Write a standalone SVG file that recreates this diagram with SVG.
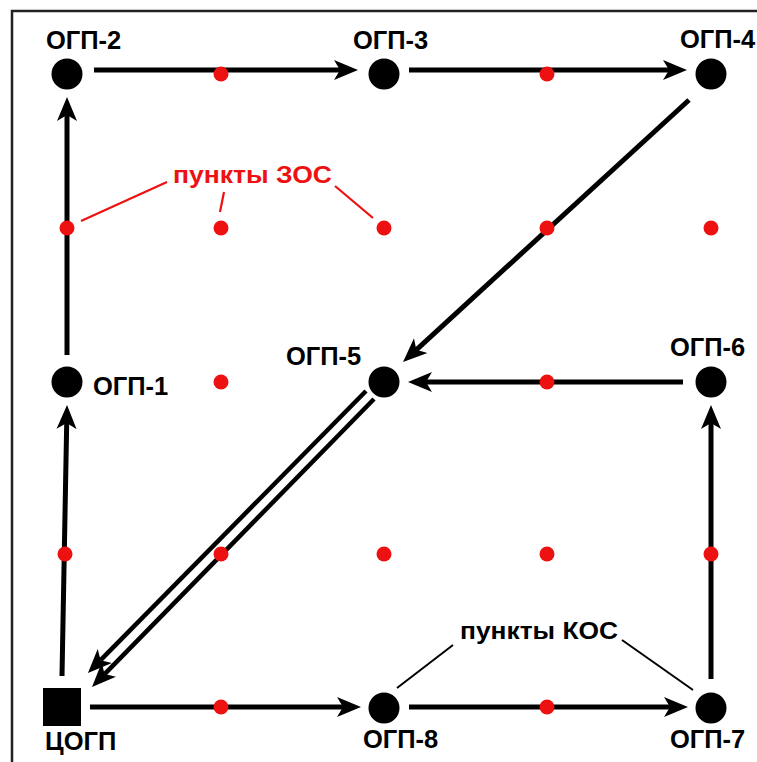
<svg xmlns="http://www.w3.org/2000/svg" width="757" height="762" viewBox="0 0 757 762">
<defs>
<style>
.lbl{font-family:"Liberation Sans",Arial,sans-serif;font-weight:bold;font-size:25.5px;fill:#000}
.red{font-family:"Liberation Sans",Arial,sans-serif;font-weight:bold;font-size:24px;fill:#ee1111}
.blk{font-family:"Liberation Sans",Arial,sans-serif;font-weight:bold;font-size:24px;fill:#000}
.edge{stroke:#000;stroke-width:5;fill:none;marker-end:url(#ah)}
.dbl{stroke:#000;stroke-width:4.5;fill:none;marker-end:url(#ah)}
.node{fill:#000}
.pt{fill:#ee1111}
.lr{stroke:#ee1111;stroke-width:2.2}
.lb{stroke:#000;stroke-width:2}
</style>
<marker id="ah" markerUnits="userSpaceOnUse" markerWidth="30" markerHeight="24" refX="6" refY="12" orient="auto" viewBox="0 0 30 24">
<path d="M0,2 L24,12 L0,22 L6,12 Z" fill="#000"/>
</marker>
</defs>
<rect x="0" y="0" width="757" height="762" fill="#fff"/>
<rect x="12" y="11" width="760" height="760" fill="none" stroke="#222" stroke-width="2.5"/>

<g id="connectors">
<line class="edge" x1="62" y1="676" x2="66.7" y2="423"/>
<line class="edge" x1="67" y1="355" x2="67" y2="115"/>
<line class="edge" x1="94" y1="70" x2="340" y2="70"/>
<line class="edge" x1="409" y1="70" x2="669" y2="70"/>
<line class="edge" x1="689" y1="100" x2="416.3" y2="349.8"/>
<line class="edge" x1="683" y1="382" x2="426" y2="382"/>
<line class="edge" x1="711" y1="679" x2="711" y2="423"/>
<line class="edge" x1="90" y1="707" x2="343" y2="707"/>
<line class="edge" x1="409" y1="707" x2="670" y2="707"/>
<line class="dbl" x1="366" y1="391" x2="100.6" y2="660.2"/>
<line class="dbl" x1="374" y1="399" x2="104.6" y2="674.1"/>
</g>

<g id="points-zos">
<circle class="pt" cx="221" cy="74" r="7.5"/>
<circle class="pt" cx="547" cy="74" r="7.5"/>
<circle class="pt" cx="67" cy="228" r="7.5"/>
<circle class="pt" cx="221" cy="228" r="7.5"/>
<circle class="pt" cx="384" cy="228" r="7.5"/>
<circle class="pt" cx="547" cy="228" r="7.5"/>
<circle class="pt" cx="711" cy="228" r="7.5"/>
<circle class="pt" cx="221" cy="382" r="7.5"/>
<circle class="pt" cx="547" cy="382" r="7.5"/>
<circle class="pt" cx="65" cy="554" r="7.5"/>
<circle class="pt" cx="221" cy="554" r="7.5"/>
<circle class="pt" cx="384" cy="554" r="7.5"/>
<circle class="pt" cx="547" cy="554" r="7.5"/>
<circle class="pt" cx="711" cy="554" r="7.5"/>
<circle class="pt" cx="221" cy="707" r="7.5"/>
<circle class="pt" cx="547" cy="707" r="7.5"/>
</g>

<g id="node-ogp2"><circle class="node" cx="67" cy="74" r="15.5"/><text class="lbl" x="46" y="49">ОГП-2</text></g>
<g id="node-ogp3"><circle class="node" cx="384" cy="74" r="15.5"/><text class="lbl" x="353" y="49">ОГП-3</text></g>
<g id="node-ogp4"><circle class="node" cx="711" cy="74" r="15.5"/><text class="lbl" x="680" y="48">ОГП-4</text></g>
<g id="node-ogp1"><circle class="node" cx="67" cy="382" r="15.5"/><text class="lbl" x="93" y="395">ОГП-1</text></g>
<g id="node-ogp5"><circle class="node" cx="384" cy="382" r="15.5"/><text class="lbl" x="286" y="365">ОГП-5</text></g>
<g id="node-ogp6"><circle class="node" cx="711" cy="382" r="15.5"/><text class="lbl" x="670" y="356">ОГП-6</text></g>
<g id="node-cogp"><rect class="node" x="43" y="688" width="38" height="38"/><text class="lbl" x="45" y="750">ЦОГП</text></g>
<g id="node-ogp8"><circle class="node" cx="384" cy="708" r="15.5"/><text class="lbl" x="363" y="748">ОГП-8</text></g>
<g id="node-ogp7"><circle class="node" cx="711" cy="708" r="15.5"/><text class="lbl" x="670" y="748">ОГП-7</text></g>

<g id="label-zos">
<text class="red" x="173" y="183" textLength="159" lengthAdjust="spacingAndGlyphs">пункты ЗОС</text>
<line class="lr" x1="167" y1="182" x2="81" y2="221"/>
<line class="lr" x1="224" y1="192" x2="220" y2="212"/>
<line class="lr" x1="335" y1="186" x2="373" y2="218"/>
</g>
<g id="label-kos">
<text class="blk" x="460" y="639" textLength="158" lengthAdjust="spacingAndGlyphs">пункты КОС</text>
<line class="lb" x1="453" y1="645" x2="397" y2="688"/>
<line class="lb" x1="622" y1="640" x2="693" y2="690"/>
</g>
</svg>
